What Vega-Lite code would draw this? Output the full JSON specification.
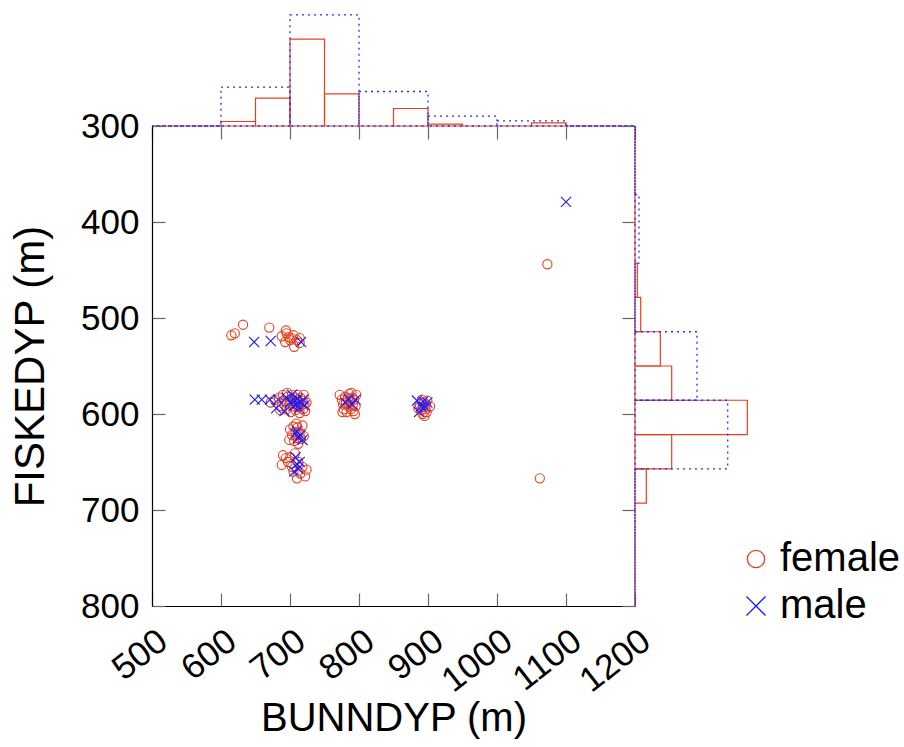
{
  "$schema": "https://vega.github.io/schema/vega-lite/v6.json",
  "padding": {"left": 9, "top": 0, "right": 0, "bottom": 0},
  "spacing": 0,
  "bounds": "flush",
  "config": {
    "view": {"stroke": null},
    "font": "Liberation Sans",
    "axis": {
      "labelFont": "Liberation Sans", "titleFont": "Liberation Sans",
      "labelColor": "#000", "titleColor": "#000", "titleFontWeight": "normal",
      "domainColor": "#000", "domainWidth": 1.2, "tickColor": "#666", "tickWidth": 1.2, "grid": false,
      "tickSize": -13, "labelFontSize": 35, "titleFontSize": 40,
      "labelFlush": false, "labelOverlap": false, "format": "d"
    },
    "legend": {"labelFont": "Liberation Sans"}
  },
  "datasets": {
    "pts": [
      {"sex": "female", "bunndyp": 615, "fiskedyp": 518}, {"sex": "female", "bunndyp": 620, "fiskedyp": 516},
      {"sex": "female", "bunndyp": 632, "fiskedyp": 507}, {"sex": "female", "bunndyp": 670, "fiskedyp": 510},
      {"sex": "female", "bunndyp": 688, "fiskedyp": 519}, {"sex": "female", "bunndyp": 694, "fiskedyp": 513},
      {"sex": "female", "bunndyp": 698, "fiskedyp": 520}, {"sex": "female", "bunndyp": 700, "fiskedyp": 523},
      {"sex": "female", "bunndyp": 702, "fiskedyp": 521}, {"sex": "female", "bunndyp": 705, "fiskedyp": 518},
      {"sex": "female", "bunndyp": 706, "fiskedyp": 530}, {"sex": "female", "bunndyp": 710, "fiskedyp": 523},
      {"sex": "female", "bunndyp": 714, "fiskedyp": 521}, {"sex": "female", "bunndyp": 693, "fiskedyp": 525},
      {"sex": "female", "bunndyp": 695, "fiskedyp": 516}, {"sex": "female", "bunndyp": 714, "fiskedyp": 526},
      {"sex": "female", "bunndyp": 672, "fiskedyp": 588}, {"sex": "female", "bunndyp": 678, "fiskedyp": 585},
      {"sex": "female", "bunndyp": 684, "fiskedyp": 583}, {"sex": "female", "bunndyp": 688, "fiskedyp": 592},
      {"sex": "female", "bunndyp": 690, "fiskedyp": 580}, {"sex": "female", "bunndyp": 693, "fiskedyp": 587},
      {"sex": "female", "bunndyp": 695, "fiskedyp": 595}, {"sex": "female", "bunndyp": 697, "fiskedyp": 582},
      {"sex": "female", "bunndyp": 699, "fiskedyp": 590}, {"sex": "female", "bunndyp": 700, "fiskedyp": 585},
      {"sex": "female", "bunndyp": 701, "fiskedyp": 598}, {"sex": "female", "bunndyp": 703, "fiskedyp": 580},
      {"sex": "female", "bunndyp": 704, "fiskedyp": 592}, {"sex": "female", "bunndyp": 706, "fiskedyp": 587},
      {"sex": "female", "bunndyp": 707, "fiskedyp": 583}, {"sex": "female", "bunndyp": 708, "fiskedyp": 596},
      {"sex": "female", "bunndyp": 709, "fiskedyp": 590}, {"sex": "female", "bunndyp": 710, "fiskedyp": 585},
      {"sex": "female", "bunndyp": 711, "fiskedyp": 580}, {"sex": "female", "bunndyp": 712, "fiskedyp": 593},
      {"sex": "female", "bunndyp": 713, "fiskedyp": 588}, {"sex": "female", "bunndyp": 714, "fiskedyp": 599},
      {"sex": "female", "bunndyp": 715, "fiskedyp": 583}, {"sex": "female", "bunndyp": 716, "fiskedyp": 591},
      {"sex": "female", "bunndyp": 718, "fiskedyp": 586}, {"sex": "female", "bunndyp": 719, "fiskedyp": 595},
      {"sex": "female", "bunndyp": 720, "fiskedyp": 580}, {"sex": "female", "bunndyp": 721, "fiskedyp": 590},
      {"sex": "female", "bunndyp": 722, "fiskedyp": 597}, {"sex": "female", "bunndyp": 724, "fiskedyp": 588},
      {"sex": "female", "bunndyp": 686, "fiskedyp": 596}, {"sex": "female", "bunndyp": 696, "fiskedyp": 578},
      {"sex": "female", "bunndyp": 700, "fiskedyp": 616}, {"sex": "female", "bunndyp": 703, "fiskedyp": 622},
      {"sex": "female", "bunndyp": 705, "fiskedyp": 613}, {"sex": "female", "bunndyp": 706, "fiskedyp": 628},
      {"sex": "female", "bunndyp": 708, "fiskedyp": 619}, {"sex": "female", "bunndyp": 710, "fiskedyp": 625},
      {"sex": "female", "bunndyp": 711, "fiskedyp": 614}, {"sex": "female", "bunndyp": 712, "fiskedyp": 631},
      {"sex": "female", "bunndyp": 714, "fiskedyp": 620}, {"sex": "female", "bunndyp": 716, "fiskedyp": 626},
      {"sex": "female", "bunndyp": 718, "fiskedyp": 612}, {"sex": "female", "bunndyp": 699, "fiskedyp": 627},
      {"sex": "female", "bunndyp": 720, "fiskedyp": 623}, {"sex": "female", "bunndyp": 709, "fiskedyp": 610},
      {"sex": "female", "bunndyp": 688, "fiskedyp": 653}, {"sex": "female", "bunndyp": 690, "fiskedyp": 643},
      {"sex": "female", "bunndyp": 694, "fiskedyp": 646}, {"sex": "female", "bunndyp": 697, "fiskedyp": 650},
      {"sex": "female", "bunndyp": 700, "fiskedyp": 645}, {"sex": "female", "bunndyp": 703, "fiskedyp": 655},
      {"sex": "female", "bunndyp": 705, "fiskedyp": 660}, {"sex": "female", "bunndyp": 707, "fiskedyp": 641},
      {"sex": "female", "bunndyp": 710, "fiskedyp": 667}, {"sex": "female", "bunndyp": 712, "fiskedyp": 650},
      {"sex": "female", "bunndyp": 715, "fiskedyp": 662}, {"sex": "female", "bunndyp": 718, "fiskedyp": 655},
      {"sex": "female", "bunndyp": 722, "fiskedyp": 665}, {"sex": "female", "bunndyp": 724, "fiskedyp": 658},
      {"sex": "female", "bunndyp": 772, "fiskedyp": 580}, {"sex": "female", "bunndyp": 775, "fiskedyp": 585},
      {"sex": "female", "bunndyp": 777, "fiskedyp": 590}, {"sex": "female", "bunndyp": 778, "fiskedyp": 595},
      {"sex": "female", "bunndyp": 780, "fiskedyp": 582}, {"sex": "female", "bunndyp": 781, "fiskedyp": 588},
      {"sex": "female", "bunndyp": 782, "fiskedyp": 598}, {"sex": "female", "bunndyp": 784, "fiskedyp": 584},
      {"sex": "female", "bunndyp": 785, "fiskedyp": 592}, {"sex": "female", "bunndyp": 786, "fiskedyp": 579},
      {"sex": "female", "bunndyp": 787, "fiskedyp": 587}, {"sex": "female", "bunndyp": 788, "fiskedyp": 595},
      {"sex": "female", "bunndyp": 790, "fiskedyp": 583}, {"sex": "female", "bunndyp": 791, "fiskedyp": 590},
      {"sex": "female", "bunndyp": 792, "fiskedyp": 597}, {"sex": "female", "bunndyp": 793, "fiskedyp": 585},
      {"sex": "female", "bunndyp": 795, "fiskedyp": 592}, {"sex": "female", "bunndyp": 796, "fiskedyp": 580},
      {"sex": "female", "bunndyp": 776, "fiskedyp": 598}, {"sex": "female", "bunndyp": 789, "fiskedyp": 578},
      {"sex": "female", "bunndyp": 794, "fiskedyp": 600},
      {"sex": "female", "bunndyp": 888, "fiskedyp": 590}, {"sex": "female", "bunndyp": 890, "fiskedyp": 596},
      {"sex": "female", "bunndyp": 891, "fiskedyp": 585}, {"sex": "female", "bunndyp": 892, "fiskedyp": 600},
      {"sex": "female", "bunndyp": 893, "fiskedyp": 592}, {"sex": "female", "bunndyp": 894, "fiskedyp": 588},
      {"sex": "female", "bunndyp": 895, "fiskedyp": 602}, {"sex": "female", "bunndyp": 896, "fiskedyp": 595},
      {"sex": "female", "bunndyp": 897, "fiskedyp": 590}, {"sex": "female", "bunndyp": 898, "fiskedyp": 598},
      {"sex": "female", "bunndyp": 899, "fiskedyp": 586}, {"sex": "female", "bunndyp": 886, "fiskedyp": 594},
      {"sex": "female", "bunndyp": 903, "fiskedyp": 592},
      {"sex": "female", "bunndyp": 1073, "fiskedyp": 444}, {"sex": "female", "bunndyp": 1062, "fiskedyp": 667},
      {"sex": "male", "bunndyp": 648, "fiskedyp": 525}, {"sex": "male", "bunndyp": 672, "fiskedyp": 524},
      {"sex": "male", "bunndyp": 716, "fiskedyp": 525},
      {"sex": "male", "bunndyp": 649, "fiskedyp": 585}, {"sex": "male", "bunndyp": 659, "fiskedyp": 585},
      {"sex": "male", "bunndyp": 671, "fiskedyp": 585}, {"sex": "male", "bunndyp": 683, "fiskedyp": 585},
      {"sex": "male", "bunndyp": 695, "fiskedyp": 583}, {"sex": "male", "bunndyp": 700, "fiskedyp": 588},
      {"sex": "male", "bunndyp": 703, "fiskedyp": 580}, {"sex": "male", "bunndyp": 705, "fiskedyp": 592},
      {"sex": "male", "bunndyp": 707, "fiskedyp": 586}, {"sex": "male", "bunndyp": 709, "fiskedyp": 590},
      {"sex": "male", "bunndyp": 711, "fiskedyp": 584}, {"sex": "male", "bunndyp": 713, "fiskedyp": 594},
      {"sex": "male", "bunndyp": 716, "fiskedyp": 588}, {"sex": "male", "bunndyp": 719, "fiskedyp": 585},
      {"sex": "male", "bunndyp": 721, "fiskedyp": 591}, {"sex": "male", "bunndyp": 680, "fiskedyp": 594},
      {"sex": "male", "bunndyp": 692, "fiskedyp": 597},
      {"sex": "male", "bunndyp": 708, "fiskedyp": 620}, {"sex": "male", "bunndyp": 712, "fiskedyp": 625},
      {"sex": "male", "bunndyp": 715, "fiskedyp": 622}, {"sex": "male", "bunndyp": 718, "fiskedyp": 627},
      {"sex": "male", "bunndyp": 710, "fiskedyp": 618},
      {"sex": "male", "bunndyp": 708, "fiskedyp": 645}, {"sex": "male", "bunndyp": 710, "fiskedyp": 652},
      {"sex": "male", "bunndyp": 712, "fiskedyp": 657}, {"sex": "male", "bunndyp": 714, "fiskedyp": 650},
      {"sex": "male", "bunndyp": 706, "fiskedyp": 660},
      {"sex": "male", "bunndyp": 780, "fiskedyp": 588}, {"sex": "male", "bunndyp": 785, "fiskedyp": 584},
      {"sex": "male", "bunndyp": 790, "fiskedyp": 590}, {"sex": "male", "bunndyp": 795, "fiskedyp": 585},
      {"sex": "male", "bunndyp": 884, "fiskedyp": 586}, {"sex": "male", "bunndyp": 887, "fiskedyp": 598},
      {"sex": "male", "bunndyp": 890, "fiskedyp": 592}, {"sex": "male", "bunndyp": 893, "fiskedyp": 587},
      {"sex": "male", "bunndyp": 896, "fiskedyp": 593}, {"sex": "male", "bunndyp": 899, "fiskedyp": 588},
      {"sex": "male", "bunndyp": 1100, "fiskedyp": 379}
    ],
    "tophist": [
      {"sex": "female", "lo": 500, "hi": 550, "density": 0}, {"sex": "female", "lo": 550, "hi": 600, "density": 0},
      {"sex": "female", "lo": 600, "hi": 650, "density": 4.5}, {"sex": "female", "lo": 650, "hi": 700, "density": 27.8},
      {"sex": "female", "lo": 700, "hi": 750, "density": 86.8}, {"sex": "female", "lo": 750, "hi": 800, "density": 32.2},
      {"sex": "female", "lo": 800, "hi": 850, "density": 0}, {"sex": "female", "lo": 850, "hi": 900, "density": 17.5},
      {"sex": "female", "lo": 900, "hi": 950, "density": 1.8}, {"sex": "female", "lo": 950, "hi": 1000, "density": 0},
      {"sex": "female", "lo": 1000, "hi": 1050, "density": 0}, {"sex": "female", "lo": 1050, "hi": 1100, "density": 3.2},
      {"sex": "female", "lo": 1100, "hi": 1150, "density": 0}, {"sex": "female", "lo": 1150, "hi": 1200, "density": 0},
      {"sex": "male", "lo": 500, "hi": 600, "density": 0}, {"sex": "male", "lo": 600, "hi": 700, "density": 38.8},
      {"sex": "male", "lo": 700, "hi": 800, "density": 111.2}, {"sex": "male", "lo": 800, "hi": 900, "density": 34.5},
      {"sex": "male", "lo": 900, "hi": 1000, "density": 9.8}, {"sex": "male", "lo": 1000, "hi": 1100, "density": 5.2},
      {"sex": "male", "lo": 1100, "hi": 1200, "density": 0}
    ],
    "righthist": [
      {"sex": "female", "lo": 300, "hi": 335.7, "density": 0}, {"sex": "female", "lo": 335.7, "hi": 371.4, "density": 0},
      {"sex": "female", "lo": 371.4, "hi": 407.1, "density": 0}, {"sex": "female", "lo": 407.1, "hi": 442.9, "density": 0},
      {"sex": "female", "lo": 442.9, "hi": 478.6, "density": 2.3}, {"sex": "female", "lo": 478.6, "hi": 514.3, "density": 5.7},
      {"sex": "female", "lo": 514.3, "hi": 550, "density": 25.3}, {"sex": "female", "lo": 550, "hi": 585.7, "density": 36.7},
      {"sex": "female", "lo": 585.7, "hi": 621.4, "density": 112.3}, {"sex": "female", "lo": 621.4, "hi": 657.1, "density": 36.7},
      {"sex": "female", "lo": 657.1, "hi": 692.9, "density": 11.3}, {"sex": "female", "lo": 692.9, "hi": 728.6, "density": 0},
      {"sex": "female", "lo": 728.6, "hi": 764.3, "density": 0}, {"sex": "female", "lo": 764.3, "hi": 800, "density": 0},
      {"sex": "male", "lo": 300, "hi": 371.4, "density": 0}, {"sex": "male", "lo": 371.4, "hi": 442.9, "density": 4},
      {"sex": "male", "lo": 442.9, "hi": 514.3, "density": 0}, {"sex": "male", "lo": 514.3, "hi": 585.7, "density": 62},
      {"sex": "male", "lo": 585.7, "hi": 657.1, "density": 92.7}, {"sex": "male", "lo": 657.1, "hi": 728.6, "density": 0},
      {"sex": "male", "lo": 728.6, "hi": 800, "density": 0}
    ]
  },
  "vconcat": [
    {
      "width": 483, "height": 126,
      "data": {"name": "tophist"},
      "layer": [
        {
          "transform": [{"filter": "datum.sex === 'female'"}],
          "mark": {"type": "rect", "filled": false, "color": "#e8401c", "strokeWidth": 1.2},
          "encoding": {
            "x": {"field": "lo", "type": "quantitative", "scale": {"domain": [500, 1200], "nice": false, "zero": false}, "axis": null},
            "x2": {"field": "hi"},
            "y": {"field": "density", "type": "quantitative", "scale": {"domain": [0, 126], "nice": false}, "axis": null},
            "y2": {"datum": 0}
          }
        },
        {
          "transform": [{"filter": "datum.sex === 'male'"}],
          "mark": {"type": "rect", "filled": false, "color": "#2a2aff", "strokeWidth": 1.3, "strokeDash": [2, 4]},
          "encoding": {
            "x": {"field": "lo", "type": "quantitative", "scale": {"domain": [500, 1200], "nice": false, "zero": false}, "axis": null},
            "x2": {"field": "hi"},
            "y": {"field": "density", "type": "quantitative", "scale": {"domain": [0, 126], "nice": false}, "axis": null},
            "y2": {"datum": 0}
          }
        }
      ]
    },
    {
      "spacing": 0,
      "bounds": "flush",
      "hconcat": [
        {
          "width": 483, "height": 480,
          "data": {"name": "pts"},
          "layer": [
            {
              "mark": {"type": "point", "opacity": 0},
              "encoding": {
                "x": {"field": "bunndyp", "type": "quantitative", "scale": {"domain": [500, 1200], "nice": false, "zero": false},
                      "axis": {"orient": "top", "values": [500, 600, 700, 800, 900, 1000, 1100, 1200], "labels": false, "domain": false, "title": null}},
                "y": {"field": "fiskedyp", "type": "quantitative", "scale": {"domain": [300, 800], "nice": false, "zero": false, "reverse": true},
                      "axis": {"orient": "right", "values": [300, 400, 500, 600, 700, 800], "labels": false, "domain": false, "title": null}}
              }
            },
            {
              "mark": {"type": "point", "filled": false, "strokeWidth": 1.1, "size": 85, "opacity": 1},
              "encoding": {
                "x": {"field": "bunndyp", "type": "quantitative", "scale": {"domain": [500, 1200], "nice": false, "zero": false},
                      "axis": {"orient": "bottom", "values": [500, 600, 700, 800, 900, 1000, 1100, 1200], "title": "BUNNDYP (m)",
                               "labelAngle": -38, "labelAlign": "right", "labelBaseline": "top", "labelPadding": 30, "labelDx": 1, "titlePadding": 0}},
                "y": {"field": "fiskedyp", "type": "quantitative", "scale": {"domain": [300, 800], "nice": false, "zero": false, "reverse": true},
                      "axis": {"orient": "left", "values": [300, 400, 500, 600, 700, 800], "title": "FISKEDYP (m)", "titleFontSize": 42, "labelPadding": 26, "titlePadding": 28}},
                "color": {"field": "sex", "type": "nominal",
                          "scale": {"domain": ["female", "male"], "range": ["#e8401c", "#1a1aff"]},
                          "legend": {"title": null, "orient": "none", "legendX": 584, "legendY": 539, "labelFontSize": 40, "labelColor": "#000",
                                     "symbolSize": 300, "symbolStrokeWidth": 1.3, "rowPadding": 7, "labelOffset": 4}},
                "shape": {"field": "sex", "type": "nominal",
                          "scale": {"domain": ["female", "male"], "range": ["circle", "M-1.1,-1.1L1.1,1.1M1.1,-1.1L-1.1,1.1"]},
                          "legend": {"title": null, "orient": "none", "legendX": 584, "legendY": 539, "labelFontSize": 40, "labelColor": "#000",
                                     "symbolSize": 300, "symbolStrokeWidth": 1.3, "rowPadding": 7, "labelOffset": 4}}
              }
            }
          ],
          "resolve": {"axis": {"x": "independent", "y": "independent"}}
        },
        {
          "width": 126, "height": 480,
          "data": {"name": "righthist"},
          "layer": [
            {
              "transform": [{"filter": "datum.sex === 'female'"}],
              "mark": {"type": "rect", "filled": false, "color": "#e8401c", "strokeWidth": 1.2},
              "encoding": {
                "y": {"field": "lo", "type": "quantitative", "scale": {"domain": [300, 800], "nice": false, "zero": false, "reverse": true}, "axis": null},
                "y2": {"field": "hi"},
                "x": {"field": "density", "type": "quantitative", "scale": {"domain": [0, 126], "nice": false}, "axis": null},
                "x2": {"datum": 0}
              }
            },
            {
              "transform": [{"filter": "datum.sex === 'male'"}],
              "mark": {"type": "rect", "filled": false, "color": "#2a2aff", "strokeWidth": 1.3, "strokeDash": [2, 4]},
              "encoding": {
                "y": {"field": "lo", "type": "quantitative", "scale": {"domain": [300, 800], "nice": false, "zero": false, "reverse": true}, "axis": null},
                "y2": {"field": "hi"},
                "x": {"field": "density", "type": "quantitative", "scale": {"domain": [0, 126], "nice": false}, "axis": null},
                "x2": {"datum": 0}
              }
            }
          ]
        }
      ]
    }
  ]
}
